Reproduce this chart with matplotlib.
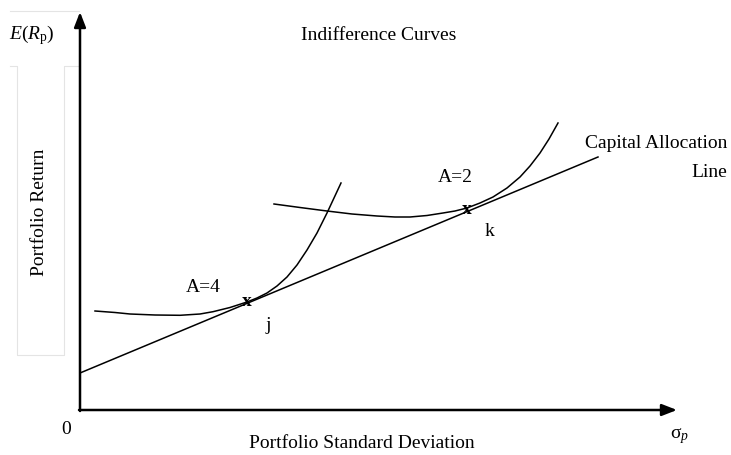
import numpy as np
import matplotlib
matplotlib.use("Agg")
import matplotlib.pyplot as plt

plt.rcParams['font.family'] = ['Liberation Serif', 'DejaVu Serif']
plt.rcParams['mathtext.fontset'] = 'custom'
plt.rcParams['mathtext.rm'] = 'Liberation Serif'
plt.rcParams['mathtext.it'] = 'Liberation Serif:italic'

# capital allocation line: (sigma, return) end points
cal_sigma = [0, 518]
cal_ret = [37, 253]

# indifference curve A=4
a4_sigma = [15, 35, 50, 75, 100, 120, 133, 150, 167, 177, 187, 197, 207, 217, 227, 237, 247, 254, 261]
a4_ret = [99, 97.5, 96, 95, 94.7, 96, 98.3, 102.5, 108, 112, 117, 124, 133, 145, 160, 177, 197, 212, 227]

# indifference curve A=2
a2_sigma = [194, 220, 247, 272, 297, 315, 330, 347, 363, 375, 387, 400, 413, 427, 440, 450, 460, 469, 478]
a2_ret = [206, 202.5, 199, 196, 194, 193, 193, 194.5, 197, 199, 202, 207, 213, 222, 233, 244, 257, 271, 287]

# tangency points
tan_labels = ['j', 'k']
tan_sigma = [167, 387]
tan_ret = [108, 200]

fig = plt.figure(figsize=(7.31, 4.55), dpi=100)
ax = fig.add_axes([0, 0, 1, 1])
ax.set_xlim(-80, 651)
ax.set_ylim(-45, 410)
ax.axis('off')

# faint frame artifacts
g = '#e4e4e4'
ax.plot([-70, -1], [399, 399], color=g, lw=0.8)
ax.plot([-70, -63, -63, -16, -16, -1], [344, 344, 55, 55, 344, 344], color=g, lw=0.8)

# axes with arrows
ax.annotate('', xy=(0, 398), xytext=(0, -1),
            arrowprops=dict(arrowstyle='-|>,head_length=0.9,head_width=0.35', lw=1.8, color='black',
                            shrinkA=0, shrinkB=0))
ax.annotate('', xy=(597, 0), xytext=(-1, 0),
            arrowprops=dict(arrowstyle='-|>,head_length=0.9,head_width=0.35', lw=1.8, color='black',
                            shrinkA=0, shrinkB=0))

ax.plot(cal_sigma, cal_ret, color='black', lw=1.1)
ax.plot(a4_sigma, a4_ret, color='black', lw=1.1, solid_joinstyle='round')
ax.plot(a2_sigma, a2_ret, color='black', lw=1.1, solid_joinstyle='round')

fs = 14
for lab, s, r, dx, dy in zip(tan_labels, tan_sigma, tan_ret, [21, 23], [-23, -22]):
    ax.text(s, r + 1, 'x', fontsize=fs, ha='center', va='center', fontweight='bold')
    ax.text(s + dx, r + dy, lab, fontsize=fs, ha='center', va='center')

ax.text(123, 123, 'A=4', fontsize=fs, ha='center', va='center')
ax.text(375, 232, 'A=2', fontsize=fs, ha='center', va='center')
ax.text(647, 252, 'Capital Allocation\nLine', fontsize=fs, ha='right', va='center',
        multialignment='right', linespacing=1.85)
ax.text(299, 375, 'Indifference Curves', fontsize=fs, ha='center', va='center')
ax.text(-48, 375, r'$E(R_{\rm p})$', fontsize=fs, ha='center', va='center')
ax.text(-40, 198, 'Portfolio Return', fontsize=fs, ha='center', va='center', rotation=90)
ax.text(282, -33, 'Portfolio Standard Deviation', fontsize=fs, ha='center', va='center')
ax.text(-14, -20, '0', fontsize=fs, ha='center', va='center')
ax.text(600, -26, r'$\mathrm{\sigma}_p$', fontsize=fs, ha='center', va='center')

fig.savefig('out.png', dpi=100)
